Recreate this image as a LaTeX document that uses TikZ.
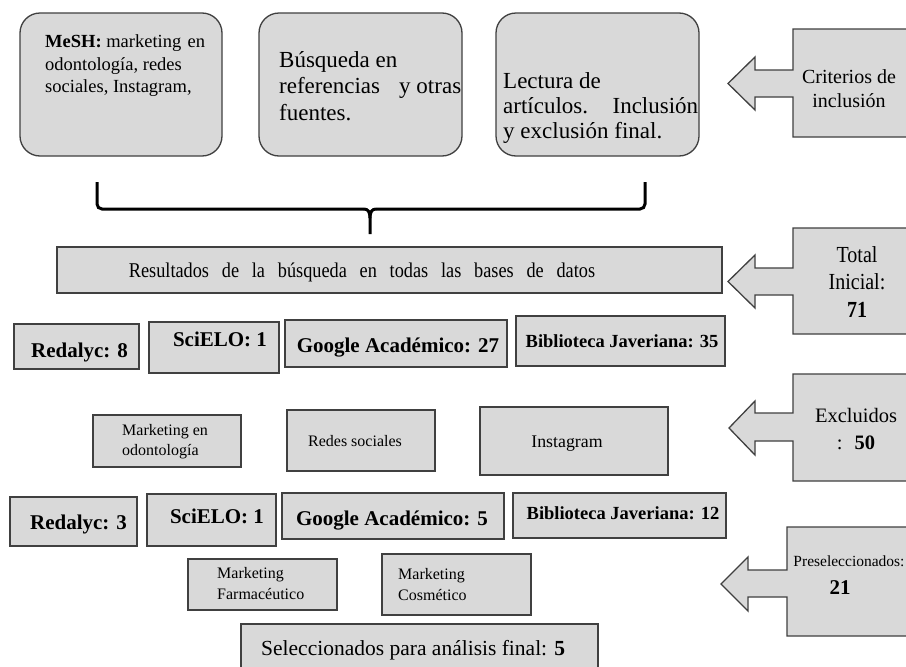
\documentclass[tikz,border=0pt]{standalone}
\usepackage{fontspec}
\setmainfont{Liberation Serif}
\newfontfamily\cond[FakeStretch=0.87]{Liberation Serif}
\newfontfamily\condwide[FakeStretch=0.87,WordSpace=2.8]{Liberation Serif}
\usetikzlibrary{fit}
\definecolor{boxfill}{HTML}{D9D9D9}
\definecolor{boxline}{HTML}{404040}
\tikzset{
  box/.style={draw=boxline, fill=boxfill, line width=1.3pt, inner sep=0pt},
  rbox/.style={box, rounded corners=20pt},
  txt/.style={inner sep=0pt, align=left, anchor=base west},
  ctxt/.style={inner sep=0pt, align=center, anchor=base},
  bracepath/.style={draw=black, line width=3pt},
}
\newcommand\fsz[2]{\fontsize{#1}{#2}\selectfont}
\begin{document}
\begin{tikzpicture}[x=1pt,y=-1pt]
\useasboundingbox (0,0) rectangle (906,667);
\fill[white] (0,0) rectangle (906,667);

% top rounded boxes
\node[rbox, fit={(20,13) (222,156)}] (b1) {};
\node[rbox, fit={(259,13) (462,156)}] (b2) {};
\node[rbox, fit={(496,13) (699,156)}] (b3) {};
\node[txt, font=\fsz{18.5}{22.5}] (t1) at (45,92.5) {\makebox[160pt][l]{\textbf{MeSH:} marketing\hfill en}\\odontología, redes\\sociales, Instagram,};
\node[txt, font=\fsz{23}{26.5}] (t2) at (279,120.3) {Búsqueda en\\\makebox[182pt][l]{referencias\hfill y otras}\\fuentes.};
\node[txt, font=\fsz{23}{25}] (t3) at (503,138.3) {Lectura de\\\makebox[195pt][l]{artículos.\hfill Inclusión}\\y exclusión final.};

% arrow: criterios
\draw[box] (793,29) -- (910,29) -- (910,137) -- (793,137) -- (793,97) -- (755,97) -- (755,110) -- (728,83.5) -- (755,57) -- (755,70) -- (793,70) -- cycle;
\node[ctxt, font=\fsz{20}{24}] (crit) at (849,107.5) {Criterios de\\inclusión};

% brace
\draw[bracepath, rounded corners=5pt] (97,182) -- (97,209) -- (364,209);
\draw[bracepath] (364,209) .. controls (368,209) and (370,212) .. (370,218) -- (370,234);
\draw[bracepath, rounded corners=5pt] (645,182) -- (645,209) -- (376,209);
\draw[bracepath] (376,209) .. controls (372,209) and (370,212) .. (370,218);

% results
\node[box, fit={(57,247) (722,293)}] (res) {};
\node[ctxt, font=\condwide\fsz{21}{24}] (rest) at (362,277) {Resultados de la búsqueda en todas las bases de datos};

% arrow: total
\draw[box] (793,228) -- (910,228) -- (910,334) -- (793,334) -- (793,295) -- (755,295) -- (755,308) -- (728,281.5) -- (755,255) -- (755,268) -- (793,268) -- cycle;
\node[ctxt, font=\cond\fsz{23}{27.5}] (tot) at (857,317) {Total\\Inicial:\\\textbf{71}};

% databases row 1
\node[box, fit={(14,324) (139,369)}] (r1a) {};
\node[ctxt, font=\fsz{21}{24}] (r1at) at (79.5,357) {\textbf{Redalyc: 8}};
\node[box, fit={(149,322) (279,373)}] (r1b) {};
\node[ctxt, font=\fsz{21}{24}] (r1bt) at (220,346) {\textbf{SciELO: 1}};
\node[box, fit={(285,320) (507,367)}] (r1c) {};
\node[ctxt, font=\fsz{21}{24}] (r1ct) at (398,352) {\textbf{Google Académico: 27}};
\node[box, fit={(516,316) (725,366)}] (r1d) {};
\node[ctxt, font=\fsz{18.5}{22}] (r1dt) at (622,347) {\textbf{Biblioteca Javeriana: 35}};

% excluded categories
\node[box, fit={(93,415) (241,467)}] (e1) {};
\node[txt, font=\fsz{16}{20}] (e1t) at (122,455.7) {Marketing en\\odontología};
\node[box, fit={(287,410) (435,471)}] (e2) {};
\node[ctxt, font=\fsz{16}{20}] (e2t) at (355,446) {Redes sociales};
\node[box, fit={(480,407) (668,475)}] (e3) {};
\node[ctxt, font=\fsz{17.8}{20}] (e3t) at (567,447) {Instagram};

% arrow: excluidos
\draw[box] (793,374) -- (910,374) -- (910,481) -- (793,481) -- (793,441) -- (755,441) -- (755,455) -- (729,428) -- (755,401) -- (755,413) -- (793,413) -- cycle;
\node[ctxt, font=\fsz{20.5}{27}] (exc) at (856,449) {Excluidos\\:~ \textbf{50}};

% databases row 2
\node[box, fit={(10,497) (137,546)}] (r2a) {};
\node[ctxt, font=\fsz{21}{24}] (r2at) at (78.5,529) {\textbf{Redalyc: 3}};
\node[box, fit={(147,494) (276,546)}] (r2b) {};
\node[ctxt, font=\fsz{21}{24}] (r2bt) at (217,523) {\textbf{SciELO: 1}};
\node[box, fit={(282,493) (504,539)}] (r2c) {};
\node[ctxt, font=\fsz{21}{24}] (r2ct) at (392,525) {\textbf{Google Académico: 5}};
\node[box, fit={(513,493) (726,538)}] (r2d) {};
\node[ctxt, font=\fsz{18.5}{22}] (r2dt) at (623,519.5) {\textbf{Biblioteca Javeriana: 12}};

% arrow: preseleccionados
\draw[box] (787,527) -- (910,527) -- (910,636) -- (787,636) -- (787,597) -- (748,597) -- (748,611) -- (721,584) -- (748,557) -- (748,570) -- (787,570) -- cycle;
\node[ctxt, font=\fsz{15.5}{27.5}] (pre) at (849,594) {Preseleccionados:\\{\fsz{21}{27.5}\textbf{21}}\hspace*{18pt}};

% marketing boxes
\node[box, fit={(188,559) (337,610)}] (m1) {};
\node[txt, font=\fsz{16}{21}] (m1t) at (217,599.7) {Marketing\\Farmacéutico};
\node[box, fit={(382,554) (531,615)}] (m2) {};
\node[txt, font=\fsz{16}{21}] (m2t) at (398,600.7) {Marketing\\Cosmético};

% final
\node[box, fit={(241,624) (598,669)}] (sel) {};
\node[txt, font=\fsz{21.5}{24}] (selt) at (261,655) {Seleccionados para análisis final: \textbf{5}};
\end{tikzpicture}
\end{document}
